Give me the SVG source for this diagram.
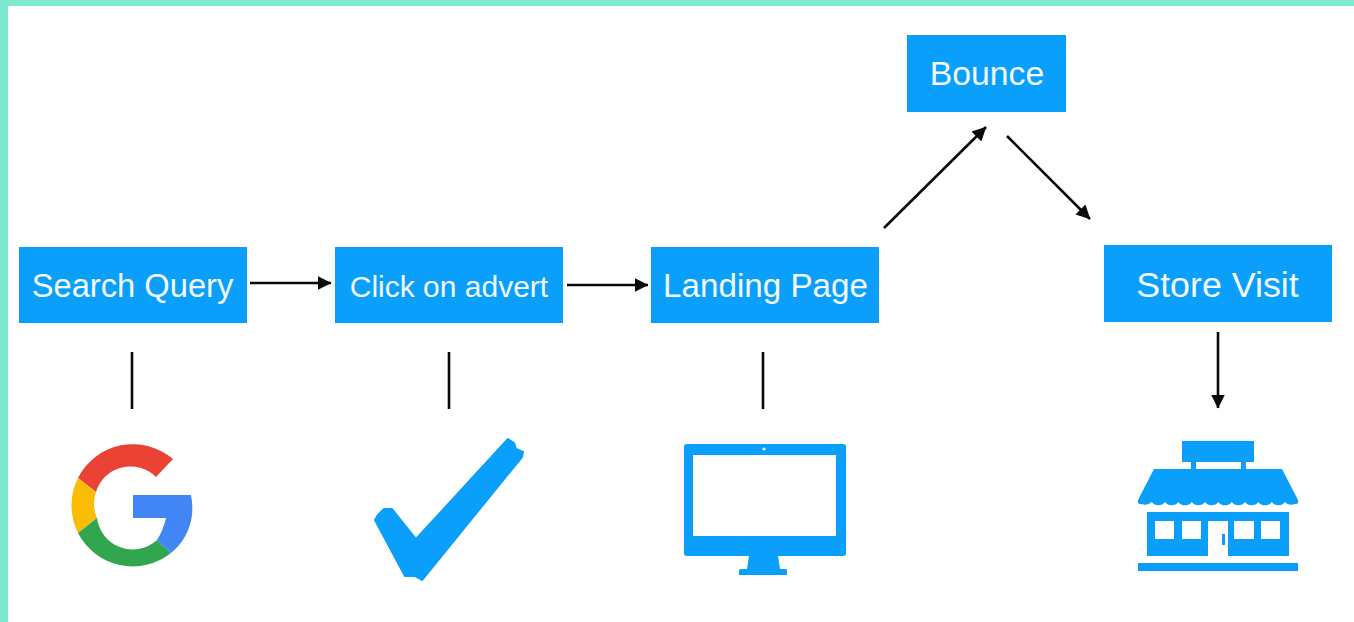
<svg xmlns="http://www.w3.org/2000/svg" width="1354" height="622" viewBox="0 0 1354 622">
<style>
.box{fill:#0a9ffb}
.icon{fill:#0a9ffb}
.rnd{stroke:#0a9ffb;stroke-width:2;stroke-linejoin:round}
.hole{fill:#fff}
.lbl{font-family:"Liberation Sans",Arial,sans-serif;fill:#f2faff;text-anchor:middle}
.line{stroke:#0a0a0a;stroke-width:2.6;fill:none}
.arr{marker-end:url(#ah)}
</style>
<defs>
<marker id="ah" markerUnits="userSpaceOnUse" markerWidth="14" markerHeight="15" refX="13.500" refY="7.500" orient="auto">
<path d="M0 0.500L14 7.500L0 14.500Z" fill="#0a0a0a"/>
</marker>
</defs>
<rect width="1354" height="622" fill="#fff"/>
<path d="M0 0H1354V6H8V622H0Z" fill="#7de9cf"/>
<g id="search-query"><rect class="box" x="19" y="247" width="228" height="76"/><text class="lbl" x="132.500" y="297" font-size="32.700">Search Query</text></g>
<g id="click-on-advert"><rect class="box" x="335" y="247" width="228" height="76"/><text class="lbl" x="449" y="297" font-size="30">Click on advert</text></g>
<g id="landing-page"><rect class="box" x="651" y="247" width="228" height="76"/><text class="lbl" x="765.500" y="297" font-size="33.200">Landing Page</text></g>
<g id="bounce"><rect class="box" x="907" y="35" width="159" height="77"/><text class="lbl" x="987" y="85" font-size="33.800">Bounce</text></g>
<g id="store-visit"><rect class="box" x="1104" y="245" width="228" height="77"/><text class="lbl" x="1217.500" y="297" font-size="35.800">Store Visit</text></g>
<g id="connectors">
<path class="line arr" d="M250 283H331"/>
<path class="line arr" d="M567 285H648"/>
<path class="line arr" d="M884 228L986 127"/>
<path class="line arr" d="M1007 136L1090 219"/>
<path class="line arr" d="M1218 332V408"/>
<path class="line" d="M132 352V409"/>
<path class="line" d="M449 352V409"/>
<path class="line" d="M763 352V409"/>
</g>
<g id="google-icon">
<path fill="#ea4335" d="M78 478A61.500 61.500 0 0 1 173 459L156 477A36 36 0 0 0 96 492Z"/>
<path fill="#fbbc05" d="M78 478A61.500 61.500 0 0 0 78 533L97 518A36 36 0 0 1 96 492Z"/>
<path fill="#32a64f" d="M78 533A61.500 61.500 0 0 0 171 553L157 540A36 36 0 0 1 97 518Z"/>
<path fill="#4285f4" d="M133 495H191Q193 505 192 515Q189 538 171 553L157 540Q163 531 166 518H133Z"/>
</g>
<g id="check-icon">
<path class="icon rnd" d="M508 439L514 443L516 449L523 452L522 457L422 580L415 576L405 576L375 520L378 515L384 509L392 509L416 539Z"/>
</g>
<g id="monitor-icon">
<path class="icon" d="M687 444H843Q846 444 846 447V553Q846 556 843 556H778L780 569H786Q787 569 787 571V575H739V571Q739 569 741 569H747L749 556H687Q684 556 684 553V447Q684 444 687 444Z"/>
<rect class="hole" x="693" y="455" width="143" height="81"/>
<circle class="hole" cx="764" cy="449" r="1.600"/>
</g>
<g id="store-icon">
<rect class="icon" x="1182" y="441" width="72" height="21"/>
<rect class="icon" x="1191" y="462" width="5" height="8"/>
<rect class="icon" x="1241" y="462" width="5" height="8"/>
<path class="icon" d="M1154 469H1282L1298 500Q1299 504 1295 504Q1288 506 1285 502A8.500 8.500 0 0 1 1271.700 502A8.500 8.500 0 0 1 1258.300 502A8.500 8.500 0 0 1 1245 502A8.500 8.500 0 0 1 1231.700 502A8.500 8.500 0 0 1 1218.300 502A8.500 8.500 0 0 1 1205 502A8.500 8.500 0 0 1 1191.700 502A8.500 8.500 0 0 1 1178.300 502A8.500 8.500 0 0 1 1165 502A8.500 8.500 0 0 1 1151.700 502Q1148 506 1141 504Q1137 504 1138 500Z"/>
<rect class="icon" x="1147" y="512" width="142" height="44"/>
<rect class="hole" x="1208" y="521" width="20" height="36"/>
<rect class="hole" x="1155" y="521" width="19" height="18"/>
<rect class="hole" x="1182" y="521" width="19" height="18"/>
<rect class="hole" x="1234" y="521" width="20" height="18"/>
<rect class="hole" x="1261" y="521" width="19" height="18"/>
<rect class="icon" x="1222" y="534" width="3" height="11"/>
<rect class="icon" x="1138" y="563" width="160" height="8"/>
</g>
</svg>
